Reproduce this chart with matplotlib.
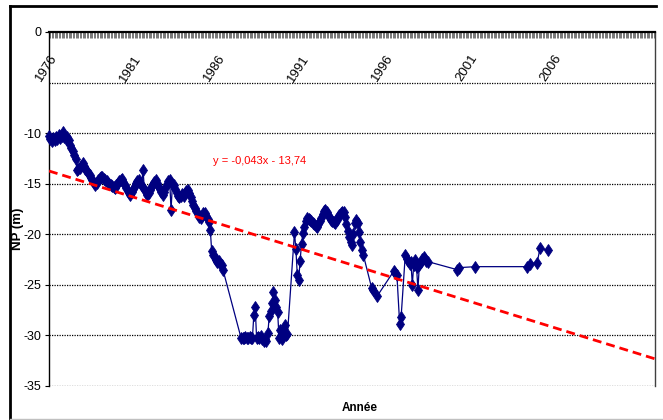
import matplotlib
matplotlib.use("Agg")
import matplotlib.pyplot as plt
from matplotlib.lines import Line2D
import numpy as np

# Monthly piezometric level readings (NP, metres)
dates = [
    "1976-01", "1976-02", "1976-03", "1976-04", "1976-05", "1976-06", "1976-07", "1976-08", "1976-09", "1976-10", "1976-11", "1976-12",
    "1977-01", "1977-02", "1977-03", "1977-04", "1977-05", "1977-06", "1977-07", "1977-08", "1977-09", "1977-10", "1977-11", "1977-12",
    "1978-01", "1978-02", "1978-03", "1978-04", "1978-05", "1978-06", "1978-07", "1978-08", "1978-09", "1978-10", "1978-11", "1978-12",
    "1979-01", "1979-02", "1979-03", "1979-04", "1979-05", "1979-06", "1979-07", "1979-08", "1979-09", "1979-10", "1979-11", "1979-12",
    "1980-01", "1980-02", "1980-03", "1980-04", "1980-05", "1980-06", "1980-07", "1980-08", "1980-09", "1980-10", "1980-11", "1980-12",
    "1981-01", "1981-02", "1981-03", "1981-04", "1981-05", "1981-06", "1981-07", "1981-08", "1981-09", "1981-10", "1981-11", "1981-12",
    "1982-01", "1982-02", "1982-03", "1982-04", "1982-05", "1982-06", "1982-07", "1982-08", "1982-09", "1982-10", "1982-11", "1982-12",
    "1983-01", "1983-02", "1983-03", "1983-04", "1983-05", "1983-06", "1983-07", "1983-08", "1983-09", "1983-10", "1983-11", "1983-12",
    "1984-01", "1984-02", "1984-03", "1984-04", "1984-05", "1984-06", "1984-07", "1984-08", "1984-09", "1984-10", "1984-11", "1984-12",
    "1985-01", "1985-02", "1985-03", "1985-04", "1985-05", "1985-06", "1985-07", "1985-08", "1985-09", "1985-10", "1985-11", "1985-12",
    "1986-01", "1986-02", "1986-03", "1986-04", "1986-05",
    "1987-06", "1987-07", "1987-08", "1987-09", "1987-10", "1987-11", "1987-12",
    "1988-01", "1988-02", "1988-03", "1988-04", "1988-05", "1988-06", "1988-07", "1988-08", "1988-09", "1988-10", "1988-11", "1988-12",
    "1989-01", "1989-02", "1989-03", "1989-04", "1989-05", "1989-06", "1989-07", "1989-08", "1989-09", "1989-10", "1989-11", "1989-12",
    "1990-01", "1990-02", "1990-03", "1990-08", "1990-09", "1990-10", "1990-11", "1990-12",
    "1991-01", "1991-02", "1991-03", "1991-04", "1991-05", "1991-06", "1991-07", "1991-08", "1991-09", "1991-10", "1991-11", "1991-12",
    "1992-01", "1992-02", "1992-03", "1992-04", "1992-05", "1992-06", "1992-07", "1992-08", "1992-09", "1992-10", "1992-11", "1992-12",
    "1993-01", "1993-02", "1993-03", "1993-04", "1993-05", "1993-06", "1993-07", "1993-08", "1993-09", "1993-10", "1993-11", "1993-12",
    "1994-01", "1994-02", "1994-03", "1994-04", "1994-05", "1994-06", "1994-07", "1994-08", "1994-09",
    "1995-03", "1995-04", "1995-07",
    "1996-07", "1996-08", "1996-09", "1996-11", "1996-12",
    "1997-03", "1997-04", "1997-05", "1997-06", "1997-07", "1997-08", "1997-09", "1997-10", "1997-11", "1997-12",
    "1998-01", "1998-02", "1998-03", "1998-04", "1998-05", "1998-06", "1998-07",
    "2000-04", "2000-05", "2001-05", "2004-06", "2004-08", "2005-01", "2005-03", "2005-09",
]
levels = [
    -10.3, -10.6, -10.8, -10.5, -10.7, -10.4, -10.6, -10.2, -10.5, -10.3, -9.9, -10.4,
    -10.6, -10.4, -10.7, -11.2, -11.5, -11.8, -12.2, -12.6, -13.6, -13.5, -13.4, -13.2,
    -13.0, -13.2, -13.5, -13.7, -13.9, -14.1, -14.4, -14.6, -14.9, -15.1, -14.9, -14.6,
    -14.4, -14.3, -14.3, -14.5, -14.6, -14.7, -14.9, -15.0, -15.1, -15.2, -15.3, -15.4,
    -15.1, -14.9, -14.7, -14.6, -14.5, -14.8, -15.1, -15.4, -15.7, -15.9, -16.1, -15.8,
    -15.5, -15.2, -14.9, -14.7, -14.6, -14.9, -15.2, -13.6, -15.5, -15.8, -16.1, -15.9,
    -15.6, -15.3, -15.0, -14.8, -14.6, -14.9, -15.2, -15.5, -15.8, -16.1, -15.8, -15.4,
    -15.0, -14.7, -14.6, -17.6, -15.0, -15.1, -15.5, -15.9, -16.2, -16.3, -16.2, -16.0,
    -16.2, -15.9, -15.7, -15.6, -15.9, -16.3, -16.7, -17.1, -17.4, -17.7, -18.0, -18.3,
    -18.4, -18.2, -17.9, -17.9, -18.2, -18.5, -18.8, -19.6, -21.7, -22.0, -22.2, -22.5,
    -22.7, -22.6, -22.9, -23.0, -23.5,
    -30.3, -30.3, -30.3, -30.2, -30.3, -30.3, -30.2,
    -30.3, -30.3, -28.0, -27.2, -30.3, -30.2, -30.3, -30.1, -30.4, -30.6, -30.4, -30.6,
    -29.8, -28.1, -27.6, -26.8, -25.7, -26.5, -27.2, -27.7, -30.3, -29.5, -30.4, -29.6,
    -29.0, -30.0, -29.9, -19.8, -21.5, -24.0, -24.5, -22.6,
    -21.0, -19.9, -19.3, -18.7, -18.4, -18.5, -18.6, -18.7, -18.9, -19.0, -19.2, -19.3,
    -19.0, -18.7, -18.4, -18.0, -17.7, -17.6, -17.8, -18.1, -18.4, -18.6, -18.7, -18.8,
    -18.9, -18.6, -18.3, -18.1, -17.9, -17.8, -17.8, -18.3, -19.0, -19.7, -20.3, -20.8,
    -21.1, -20.0, -18.9, -18.6, -18.9, -19.8, -20.8, -21.6, -22.0,
    -25.3, -25.5, -26.1,
    -23.6, -23.8, -24.0, -28.9, -28.2,
    -22.0, -22.4, -22.6, -22.9, -22.7, -25.0, -23.0, -22.5, -23.2, -25.5,
    -23.0, -22.7, -22.4, -22.2, -22.4, -22.6, -22.7,
    -23.5, -23.3, -23.2, -23.2, -22.9, -22.8, -21.4, -21.6,
]

tick_years = [1976, 1981, 1986, 1991, 1996, 2001, 2006]
y_ticks = [0, -10, -15, -20, -25, -30, -35]
grid_levels = [-5, -10, -15, -20, -25, -30, -35]

# Linear trend, x counted in months from January 1976
trend_slope = -0.043
trend_intercept = -13.74

START_YEAR = 1976
N_MONTHS = 432

narrow = ["Liberation Sans Narrow", "Liberation Sans", "DejaVu Sans"]
plt.rcParams["font.family"] = narrow

W, H = 663, 420
fig = plt.figure(figsize=(W / 100, H / 100), dpi=100)
ax = fig.add_axes([49 / W, 34 / H, 606 / W, 354 / H])

months = [(int(d[:4]) - START_YEAR) * 12 + int(d[5:7]) - 1 for d in dates]

navy = "#000080"
ax.plot(months, levels, color=navy, lw=0.9, marker="d", ms=6,
        mfc=navy, mec=navy, mew=0.6, clip_on=False, zorder=3)

xs = np.array([0, N_MONTHS])
ax.plot(xs, trend_slope * xs + trend_intercept, color="#ff0000", lw=2.0,
        ls=(0, (3.2, 1.8)), zorder=4)

for g in grid_levels:
    ax.axhline(g, color="black", lw=0.9, ls=(0, (1, 1)), zorder=1)

ax.set_xlim(0, N_MONTHS)
ax.set_ylim(-35, 0)

ax.spines["bottom"].set_visible(False)
ax.spines["top"].set_linewidth(1.6)
ax.spines["top"].set_color("black")
ax.spines["left"].set_linewidth(1.0)
ax.spines["left"].set_color("black")
ax.spines["right"].set_linewidth(1.0)
ax.spines["right"].set_color("#404040")

# date axis runs along the top (crosses at 0), with a tick every month
ax.xaxis.set_ticks_position("top")
tick_months = [(y - START_YEAR) * 12 for y in tick_years]
ax.set_xticks(tick_months)
ax.set_xticks(np.arange(0, N_MONTHS + 1), minor=True)
ax.tick_params(axis="x", which="both", direction="in", length=4, width=0.6,
               color="#606060", labeltop=False, labelbottom=False)

ax.set_yticks(y_ticks)
ax.set_yticklabels([str(v) for v in y_ticks])
ax.tick_params(axis="y", direction="out", length=3, width=0.8, labelsize=9, pad=2.5)

for yr, m in zip(tick_years, tick_months):
    ax.text(m - 2, -3.6, str(yr), rotation=57, ha="center", va="center",
            fontsize=9.5, color="black", zorder=5)

eq = f"y = {trend_slope:.3f}x - {abs(trend_intercept):.2f}".replace(".", ",")
ax.text(150, -12.75, eq, color="#ff0000", fontsize=8, ha="center", va="center")

fig.text(18.5 / W, 1 - 229 / H, "NP (m)", rotation=90, fontweight="bold",
         fontsize=9.5, family=["Liberation Sans", "DejaVu Sans"],
         ha="center", va="center")
fig.text(360 / W, 1 - 408 / H, "Année", fontweight="bold", fontsize=8.5,
         ha="center", va="center")

# chart frame
fig.add_artist(Line2D([9.5 / W, 9.5 / W], [1 - 419 / H, 1 - 6 / H],
                      transform=fig.transFigure, color="black", lw=2.0))
fig.add_artist(Line2D([9.5 / W, 656 / W], [1 - 6 / H, 1 - 6 / H],
                      transform=fig.transFigure, color="black", lw=2.0))
fig.add_artist(Line2D([9.5 / W, 1], [1 - 418.5 / H, 1 - 418.5 / H],
                      transform=fig.transFigure, color="#c0c0c0", lw=1.0))

fig.savefig("out.png", dpi=100)
